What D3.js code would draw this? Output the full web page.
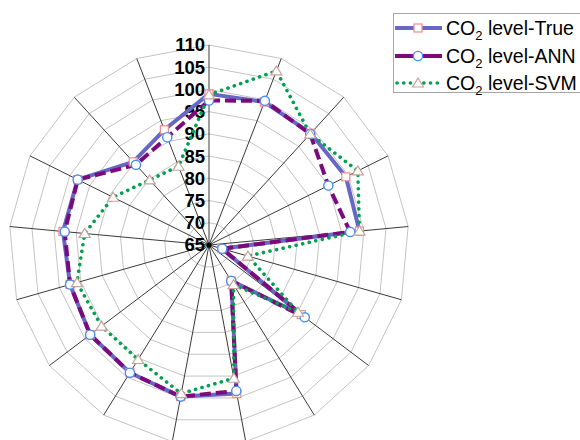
<!DOCTYPE html>
<html>
<head>
<meta charset="utf-8">
<script src="https://cdn.jsdelivr.net/npm/d3@7"></script>
<style>
  html, body { margin: 0; padding: 0; background: #fff; }
  svg { display: block; font-family: "Liberation Sans", Arial, sans-serif; }
</style>
</head>
<body>
<svg id="chart" width="580" height="440"></svg>
<script>
// Sample points around the radar (one spoke each, clockwise from the top)
const categories = ["1","2","3","4","5","6","7","8","9","10","11","12","13","14","15","16","17"];

// CO2 level readings per spoke
const trueVals = [99, 99.5, 99, 99.4, 99, 68, 91, 74.5, 99, 99.7, 98.8, 98.5, 97.5, 98, 98, 90.3, 92.8];
const annVals  = [97.5, 99.8, 98.8, 95, 96.9, 68.1, 92, 74.5, 98.4, 99.7, 98.8, 98.5, 97.5, 97.6, 98, 89.4, 91];
const svmVals  = [98.8, 107, 98.8, 102.4, 99, 74.1, 90.1, 75.5, 95.5, 99, 95.3, 95.3, 95.9, 93.1, 89.1, 84.8, 84];

// Radial tick labels
const tickLabels = [65, 70, 75, 80, 85, 90, 95, 100, 105, 110];

const seriesNames = ["level-True", "level-ANN", "level-SVM"];

const svg = d3.select("#chart");
const cx = 209, cy = 245, R = 200;

const r = d3.scaleLinear().domain([65, 110]).range([0, R]);
// one spoke per category, evenly spread over the full turn
const step = 2 * Math.PI / categories.length;
const ang = c => categories.indexOf(c) * step;

const g = svg.append("g").attr("transform", `translate(${cx},${cy})`);

// Concentric grid polygons
const ringLine = d3.lineRadial().curve(d3.curveLinearClosed);
g.append("g").selectAll("path")
  .data(tickLabels.slice(1))
  .join("path")
  .attr("d", v => ringLine(categories.map(c => [ang(c), r(v)])))
  .attr("fill", "none")
  .attr("stroke", "#c4c4c4")
  .attr("stroke-width", 1);

// Spokes
g.append("g").selectAll("line")
  .data(categories)
  .join("line")
  .attr("x1", 0).attr("y1", 0)
  .attr("x2", c => r(110) * Math.sin(ang(c)))
  .attr("y2", c => -r(110) * Math.cos(ang(c)))
  .attr("stroke", "#3a3a3a")
  .attr("stroke-width", 1);

g.append("circle").attr("r", 2.5).attr("fill", "#000");

// Radial axis labels along the top spoke
g.append("g").selectAll("text")
  .data(tickLabels)
  .join("text")
  .attr("x", -4)
  .attr("y", v => -r(v))
  .attr("dy", "0.35em")
  .attr("text-anchor", "end")
  .attr("font-size", 18.5)
  .attr("font-weight", "bold")
  .attr("fill", "#000")
  .text(v => v);

const series = [
  { name: seriesNames[0], values: trueVals, color: "#6767c6", width: 4, dash: null, cap: "butt",
    marker: "square", mStroke: "#f08a8a" },
  { name: seriesNames[1], values: annVals, color: "#7d0a7d", width: 4, dash: "11,5", cap: "butt",
    marker: "circle", mStroke: "#4a8cf5" },
  { name: seriesNames[2], values: svmVals, color: "#00a050", width: 3.6, dash: "0.1,6.6", cap: "round",
    marker: "triangle", mStroke: "#c4a49a" }
];

const dataLine = d3.lineRadial().curve(d3.curveLinearClosed);

series.forEach(s => {
  g.append("path")
    .attr("d", dataLine(categories.map((c, i) => [ang(c), r(s.values[i])])))
    .attr("fill", "none")
    .attr("stroke", s.color)
    .attr("stroke-width", s.width)
    .attr("stroke-linecap", s.cap)
    .attr("stroke-linejoin", "round")
    .attr("stroke-dasharray", s.dash);
});

function drawMarker(sel, type, stroke) {
  if (type === "square") {
    sel.append("rect").attr("x", -4).attr("y", -4).attr("width", 8).attr("height", 8)
      .attr("fill", "#fff").attr("stroke", stroke).attr("stroke-width", 1.2);
  } else if (type === "circle") {
    sel.append("circle").attr("r", 4.6)
      .attr("fill", "#fff").attr("stroke", stroke).attr("stroke-width", 1.4);
  } else {
    sel.append("path").attr("d", "M0,-5 L5.5,4 L-5.5,4 Z")
      .attr("fill", "#fff").attr("stroke", stroke).attr("stroke-width", 1.2);
  }
}

series.forEach(s => {
  categories.forEach((c, i) => {
    const a = ang(c), rr = r(s.values[i]);
    const m = g.append("g").attr("transform", `translate(${rr * Math.sin(a)},${-rr * Math.cos(a)})`);
    drawMarker(m, s.marker, s.mStroke);
  });
});

// Legend
const legend = svg.append("g");
legend.append("rect")
  .attr("x", 393.5).attr("y", 13.5).attr("width", 200).attr("height", 79)
  .attr("fill", "#fff").attr("stroke", "#a6a6a6").attr("stroke-width", 1);

const rowY = [28, 56, 83];
series.forEach((s, i) => {
  const row = legend.append("g").attr("transform", `translate(0,${rowY[i]})`);
  row.append("line")
    .attr("x1", s.cap === "round" ? 397 : 395).attr("x2", 442)
    .attr("y1", 0).attr("y2", 0)
    .attr("stroke", s.color).attr("stroke-width", s.width)
    .attr("stroke-linecap", s.cap)
    .attr("stroke-dasharray", s.cap === "round" ? s.dash : null);
  const m = row.append("g").attr("transform", "translate(418,0)");
  drawMarker(m, s.marker, s.mStroke);
  const t = row.append("text")
    .attr("x", 446).attr("y", 0).attr("dy", "0.35em")
    .attr("font-size", 19.5).attr("fill", "#000");
  t.append("tspan").text("CO");
  t.append("tspan").attr("font-size", 13).attr("dy", 5).text("2");
  t.append("tspan").attr("dy", -5).text(" " + s.name);
});
</script>
</body>
</html>
